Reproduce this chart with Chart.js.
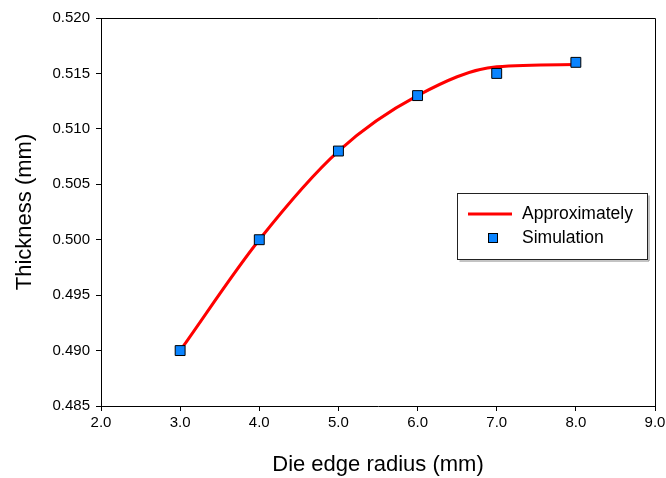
<!DOCTYPE html>
<html>
<head>
<meta charset="utf-8">
<script src="https://cdn.jsdelivr.net/npm/chart.js@4/dist/chart.umd.min.js"></script>
<style>
  html, body { margin: 0; padding: 0; background: #fff; }
  #wrap { width: 666px; height: 478px; }
</style>
</head>
<body>
<div id="wrap"><canvas id="myChart" width="666" height="478"></canvas></div>
<script>
'use strict';
// data
var radius = [3, 4, 5, 6, 7, 8];
var simulation = [0.490, 0.500, 0.508, 0.513, 0.515, 0.516];
var approxRadius = [3, 4, 5, 6, 7, 8];
var approximately = [0.4900, 0.5000, 0.5080, 0.5130, 0.5156, 0.5158];
var seriesNames = ['Approximately', 'Simulation'];

var FONT = "'Liberation Sans', Arial, sans-serif";
var BLUE = '#0a84ff';

function pts(xs, ys) {
    return xs.map(function (x, i) { return { x: x, y: ys[i] } });
}

// ramka (gora i prawo) + legenda w srodku wykresu
var framePlugin = {
    id: 'frame',
    afterDraw: function (chart) {
        var ctx = chart.ctx, a = chart.chartArea;
        ctx.save();
        ctx.strokeStyle = '#000';
        ctx.lineWidth = 1;
        ctx.beginPath();
        ctx.moveTo(a.left, a.top + 0.5);
        ctx.lineTo(a.right + 0.5, a.top + 0.5);
        ctx.lineTo(a.right + 0.5, a.bottom);
        ctx.stroke();

        // legend box
        var bx = 457.5, by = 193.5, bw = 190, bh = 66;
        ctx.strokeStyle = '#888';
        ctx.beginPath();
        ctx.moveTo(bx + 2, by + bh + 1.5);
        ctx.lineTo(bx + bw + 1.5, by + bh + 1.5);
        ctx.lineTo(bx + bw + 1.5, by + 2);
        ctx.stroke();
        ctx.fillStyle = '#fff';
        ctx.fillRect(bx, by, bw, bh);
        ctx.strokeStyle = '#222';
        ctx.strokeRect(bx, by, bw, bh);

        ctx.strokeStyle = '#ff0000';
        ctx.lineWidth = 3;
        ctx.beginPath();
        ctx.moveTo(468, 214);
        ctx.lineTo(512, 214);
        ctx.stroke();

        ctx.fillStyle = BLUE;
        ctx.fillRect(488.5, 233.5, 9, 9);
        ctx.strokeStyle = '#000';
        ctx.lineWidth = 1;
        ctx.strokeRect(488.5, 233.5, 9, 9);

        ctx.fillStyle = '#000';
        ctx.font = '17.5px ' + FONT;
        ctx.textBaseline = 'middle';
        ctx.fillText(seriesNames[0], 522, 214);
        ctx.fillText(seriesNames[1], 522, 238);
        ctx.restore();
    }
};

var ctx = document.getElementById('myChart').getContext('2d');

var chart = new Chart(ctx, {
    type: 'scatter',
    data: {
        datasets: [{
            label: seriesNames[0],
            data: pts(approxRadius, approximately),
            showLine: true,
            borderColor: '#ff0000',
            backgroundColor: '#ff0000',
            borderWidth: 3,
            pointRadius: 0,
            cubicInterpolationMode: 'monotone',
            order: 2
        },
        {
            label: seriesNames[1],
            data: pts(radius, simulation),
            pointStyle: 'rect',
            pointRadius: 7,
            backgroundColor: BLUE,
            borderColor: '#000',
            borderWidth: 1,
            order: 1
        }]
    },
    options: {
        responsive: false,
        animation: false,
        layout: { padding: { top: 18, right: 11, left: 0, bottom: 0 } },
        plugins: {
            legend: { display: false },
            tooltip: { enabled: false }
        },
        scales: {
            x: {
                type: 'linear',
                min: 2, max: 9,
                afterFit: function (s) { s.height = 72; s.paddingRight = 0; s.paddingLeft = 0 },
                ticks: {
                    stepSize: 1,
                    color: '#000',
                    padding: 3,
                    font: { family: FONT, size: 15 },
                    callback: function (v) { return v.toFixed(1) }
                },
                grid: { drawOnChartArea: false, drawTicks: true, tickLength: 5, color: '#000' },
                border: { display: true, color: '#000', width: 1 },
                title: {
                    display: true,
                    text: 'Die edge radius (mm)',
                    color: '#000',
                    font: { family: FONT, size: 22 },
                    padding: { top: 16, bottom: 0 }
                }
            },
            y: {
                min: 0.485, max: 0.520,
                afterFit: function (s) { s.width = 101; s.paddingTop = 0; s.paddingBottom = 0 },
                ticks: {
                    stepSize: 0.005,
                    color: '#000',
                    padding: 6,
                    font: { family: FONT, size: 15 },
                    callback: function (v) { return v.toFixed(3) }
                },
                grid: { drawOnChartArea: false, drawTicks: true, tickLength: 5, color: '#000' },
                border: { display: true, color: '#000', width: 1 },
                title: {
                    display: true,
                    text: 'Thickness (mm)',
                    color: '#000',
                    font: { family: FONT, size: 22 },
                    padding: { top: 12, bottom: 0 }
                }
            }
        }
    },
    plugins: [framePlugin]
});
</script>
</body>
</html>
